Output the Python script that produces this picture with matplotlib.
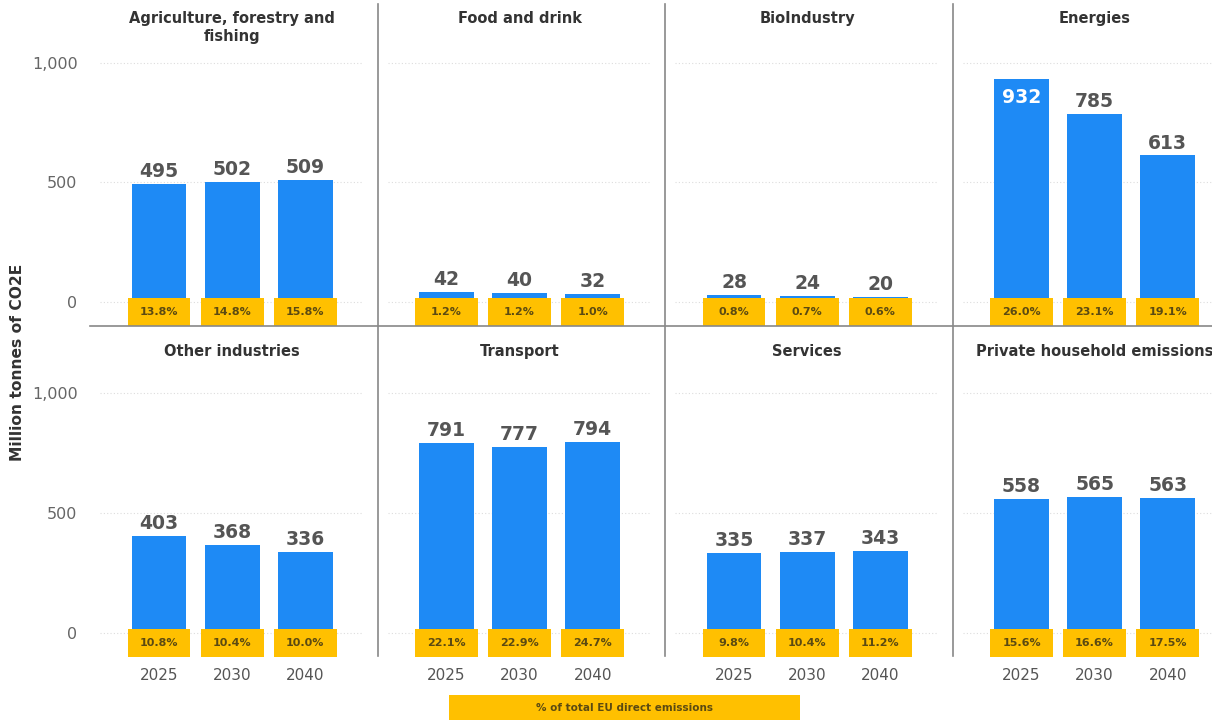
import matplotlib.pyplot as plt
from matplotlib.patches import Rectangle
from matplotlib.lines import Line2D

plt.rcParams['font.family'] = ['DejaVu Sans']

years = ["2025", "2030", "2040"]

sectors_top = ["Agriculture, forestry and\nfishing", "Food and drink", "BioIndustry", "Energies"]
sectors_bottom = ["Other industries", "Transport", "Services", "Private household emissions"]

emissions_top = [
    [495, 502, 509],
    [42, 40, 32],
    [28, 24, 20],
    [932, 785, 613],
]
emissions_bottom = [
    [403, 368, 336],
    [791, 777, 794],
    [335, 337, 343],
    [558, 565, 563],
]

share_top = [
    [13.8, 14.8, 15.8],
    [1.2, 1.2, 1.0],
    [0.8, 0.7, 0.6],
    [26.0, 23.1, 19.1],
]
share_bottom = [
    [10.8, 10.4, 10.0],
    [22.1, 22.9, 24.7],
    [9.8, 10.4, 11.2],
    [15.6, 16.6, 17.5],
]

BLUE = "#1e8af5"
YELLOW = "#ffc000"
W, H = 1212, 724

fig = plt.figure(figsize=(W / 100, H / 100), dpi=100)
fig.patch.set_facecolor("white")

# panel geometry in pixels (left edge of first panel, panel width)
x0, pw = 90, 287.5
rows = [
    (39, 326, sectors_top, emissions_top, share_top, False),
    (369, 657, sectors_bottom, emissions_bottom, share_bottom, True),
]


def px(x, y):
    return x / W, 1 - y / H


for top, bottom, names, vals, shares, show_years in rows:
    for j in range(4):
        left = x0 + j * pw
        ax = fig.add_axes([left / W, 1 - bottom / H, pw / W, (bottom - top) / H])
        ax.set_xlim(-0.945, 2.99)
        ax.set_ylim(-100, 1100)
        for s in ax.spines.values():
            s.set_visible(False)

        for g in (0, 500, 1000):
            ax.axhline(g, xmin=0.035, xmax=0.945, color="#dddddd", lw=0.8,
                       ls=(0, (1, 2)), zorder=0)

        xs = range(len(years))
        ax.bar(xs, vals[j], width=0.75, color=BLUE, zorder=2)
        for x, v, p in zip(xs, vals[j], shares[j]):
            if v > 900:
                ax.annotate(f"{v:,}", (x, v), xytext=(0, -17), textcoords="offset points",
                            ha="center", va="baseline", fontsize=13.5, fontweight="bold",
                            color="white", zorder=4)
            else:
                ax.annotate(f"{v:,}", (x, v), xytext=(0, 5), textcoords="offset points",
                            ha="center", va="baseline", fontsize=13.5, fontweight="bold",
                            color="#555555", zorder=4)
            ax.add_patch(Rectangle((x - 0.43, -100), 0.86, 118, facecolor=YELLOW,
                                   edgecolor="none", zorder=3, clip_on=False))
            ax.text(x, -43, f"{p:.1f}%", ha="center", va="center", fontsize=8,
                    fontweight="bold", color="#5b4a12", zorder=4)

        ax.text(1, 1215 if not show_years else 1205, names[j], ha="center", va="top",
                fontsize=10.5, fontweight="bold", color="#333333", linespacing=1.2,
                clip_on=False)

        ax.set_xticks(list(xs))
        if show_years:
            ax.set_xticklabels(years, fontsize=11, color="#555555")
            ax.tick_params(axis="x", length=0, pad=8)
        else:
            ax.tick_params(axis="x", length=0, labelbottom=False)

        if j == 0:
            ax.set_yticks([0, 500, 1000])
            ax.set_yticklabels(["0", "500", "1,000"], fontsize=11.5, color="#666666")
            ax.tick_params(axis="y", length=0, pad=9)
        else:
            ax.set_yticks([])

# separators between panels
for j in range(1, 4):
    xa, ya = px(x0 + j * pw, 4)
    xb, yb = px(x0 + j * pw, 656)
    fig.add_artist(Line2D([xa, xb], [ya, yb], color="#888888", lw=1.2))
xa, ya = px(x0, 326)
xb, yb = px(W, 326)
fig.add_artist(Line2D([xa, xb], [ya, yb], color="#888888", lw=1.2))

fig.text(18 / W, 1 - 362 / H, "Million tonnes of CO2E", rotation=90, ha="center",
         va="center", fontsize=11.2, fontweight="bold", color="#333333")

# legend box
lx, ly = px(449, 720)
fig.add_artist(Rectangle((lx, ly), 351 / W, 25 / H, transform=fig.transFigure,
                         facecolor=YELLOW, edgecolor="none"))
fig.text(624 / W, 1 - 708 / H, "% of total EU direct emissions", ha="center", va="center",
         fontsize=7.5, fontweight="bold", color="#5b4a12")

fig.savefig("out.png", dpi=100, facecolor="white")
